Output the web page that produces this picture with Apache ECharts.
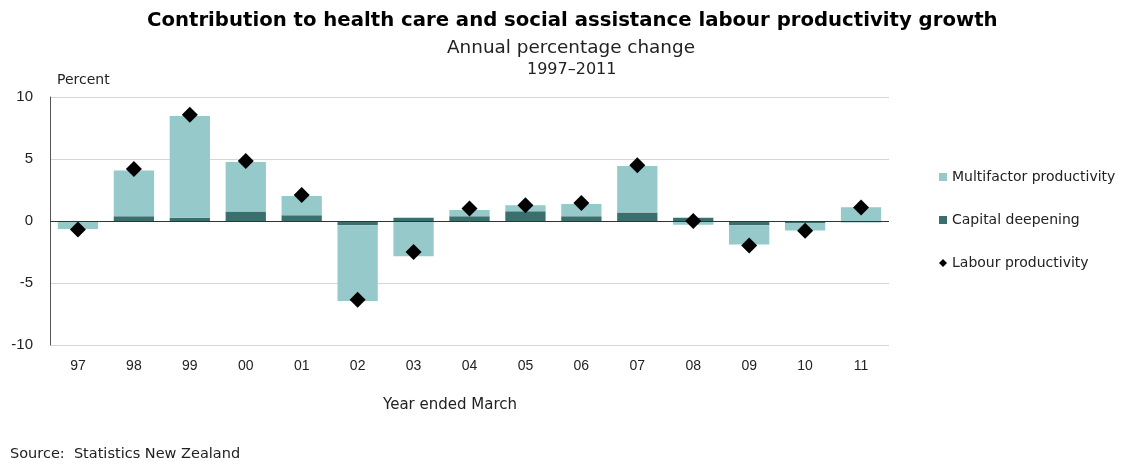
<!DOCTYPE html>
<html>
<head>
<meta charset="utf-8">
<script src="https://cdn.jsdelivr.net/npm/echarts@6/dist/echarts.min.js"></script>
<style>
  html, body { margin: 0; padding: 0; background: #fff; }
  #chart { width: 1121px; height: 465px; }
</style>
</head>
<body>
<div id="chart"></div>
<script>
// Years ended March, 1997–2011
var categories = ['97', '98', '99', '00', '01', '02', '03', '04', '05', '06', '07', '08', '09', '10', '11'];
// Contribution of multifactor productivity (percentage points)
var multifactor = [-0.65, 3.7, 8.2, 4.0, 1.55, -6.1, -2.85, 0.5, 0.5, 1.0, 3.75, -0.3, -1.55, -0.6, 1.1];
// Contribution of capital deepening (percentage points)
var capital = [0, 0.38, 0.27, 0.76, 0.46, -0.35, 0.27, 0.38, 0.78, 0.38, 0.68, 0.27, -0.35, -0.16, -0.1];
// Labour productivity growth (percent)
var labour = [-0.68, 4.2, 8.57, 4.84, 2.1, -6.35, -2.5, 1.0, 1.27, 1.46, 4.5, 0.0, -1.97, -0.78, 1.08];
var yTicks = [-10, -5, 0, 5, 10];

var FONT = '"Liberation Sans", Arial, sans-serif';
var WIDE = '"DejaVu Sans", Verdana, sans-serif';
var LIGHT = '#95c9ca';
var DARK = '#3a6f6d';

var chart = echarts.init(document.getElementById('chart'), null, { renderer: 'canvas' });

chart.setOption({
  animation: false,
  backgroundColor: '#ffffff',
  textStyle: { fontFamily: FONT },
  title: [
    {
      text: 'Contribution to health care and social assistance labour productivity growth',
      left: 142, top: 6,
      textStyle: { fontFamily: WIDE, fontSize: 19.7, fontWeight: 'bold', color: '#000' }
    },
    {
      text: 'Annual percentage change',
      left: 442, top: 34,
      textStyle: { fontFamily: WIDE, fontSize: 18.4, fontWeight: 'normal', color: '#222' }
    },
    {
      text: '1997\u20132011',
      left: 522, top: 57,
      textStyle: { fontFamily: WIDE, fontSize: 16, fontWeight: 'normal', color: '#222' }
    }
  ],
  legend: {
    orient: 'vertical',
    left: 934, top: 165,
    itemGap: 29,
    itemWidth: 8, itemHeight: 8,
    textStyle: { fontFamily: WIDE, fontSize: 14, color: '#222' },
    data: [
      { name: 'Multifactor productivity', icon: 'rect' },
      { name: 'Capital deepening', icon: 'rect' },
      { name: 'Labour productivity', icon: 'diamond' }
    ]
  },
  grid: { left: 50, right: 232, top: 97, bottom: 120, containLabel: false },
  xAxis: {
    type: 'category',
    data: categories,
    axisLine: { show: false, onZero: false },
    axisTick: { show: false },
    axisLabel: { fontFamily: FONT, fontSize: 14, color: '#222', margin: 14 }
  },
  yAxis: {
    type: 'value',
    min: -10, max: 10, interval: 5,
    axisLine: { show: true, lineStyle: { color: '#555', width: 1 } },
    axisTick: { show: false },
    axisLabel: {
      fontFamily: FONT, fontSize: 15, color: '#222', margin: 17,
      formatter: function (v) { return yTicks.indexOf(v) >= 0 ? String(v) : ''; }
    },
    splitLine: { show: true, lineStyle: { color: '#d6d6d6', width: 1 } }
  },
  series: [
    {
      name: 'Capital deepening',
      type: 'bar',
      stack: 'contrib',
      data: capital,
      barCategoryGap: '28%',
      itemStyle: { color: DARK },
      markLine: {
        silent: true,
        symbol: 'none',
        label: { show: false },
        lineStyle: { color: '#333', width: 1, type: 'solid' },
        data: [{ yAxis: 0 }],
        z: 5
      }
    },
    {
      name: 'Multifactor productivity',
      type: 'bar',
      stack: 'contrib',
      data: multifactor,
      barCategoryGap: '28%',
      itemStyle: { color: LIGHT }
    },
    {
      name: 'Labour productivity',
      type: 'scatter',
      data: labour,
      symbol: 'diamond',
      symbolSize: 16,
      itemStyle: { color: '#000', opacity: 1 },
      z: 10
    }
  ],
  graphic: [
    { type: 'text', left: 57, top: 73, style: { text: 'Percent', font: '14px ' + WIDE, fill: '#222' } },
    { type: 'text', left: 383, top: 398, style: { text: 'Year ended March', font: '15px ' + WIDE, fill: '#222' } },
    { type: 'text', left: 10, top: 447, style: { text: 'Source:  Statistics New Zealand', font: '14.5px ' + WIDE, fill: '#222' } }
  ]
});
</script>
</body>
</html>
